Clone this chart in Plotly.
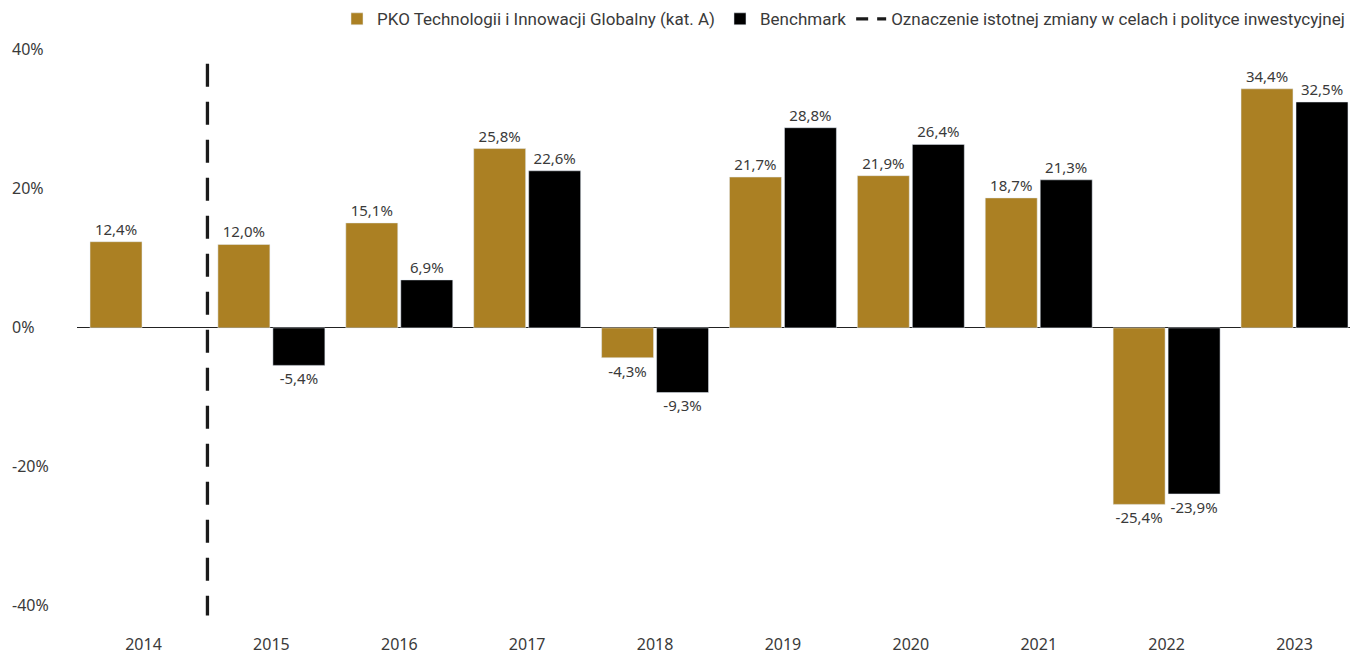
import plotly.graph_objects as go

years = ["2014", "2015", "2016", "2017", "2018", "2019", "2020", "2021", "2022", "2023"]
fund_values = [12.4, 12.0, 15.1, 25.8, -4.3, 21.7, 21.9, 18.7, -25.4, 34.4]
bench_values = [None, -5.4, 6.9, 22.6, -9.3, 28.8, 26.4, 21.3, -23.9, 32.5]
y_ticks = [-40, -20, 0, 20, 40]
change_after_year = "2014"

fund_name = "PKO Technologii i Innowacji Globalny (kat. A)"
bench_name = "Benchmark"
line_name = "Oznaczenie istotnej zmiany w celach i polityce inwestycyjnej"

GOLD = "#AB8023"
BLACK = "#000000"
TEXT = "#3a3a3a"
NUM_FONT = "Noto Sans"
LEG_FONT = "Roboto"

xpos = list(range(len(years)))


def fmt(v):
    return "" if v is None else f"{v:.1f}%".replace(".", ",")


fig = go.Figure()
fig.add_trace(go.Bar(
    x=xpos, y=fund_values, name=fund_name, marker_color=GOLD,
    text=[fmt(v) for v in fund_values], textposition="outside",
    textfont=dict(family=NUM_FONT, size=15, color=TEXT),
    cliponaxis=False, constraintext="none", hoverinfo="skip",
))
fig.add_trace(go.Bar(
    x=xpos, y=bench_values, name=bench_name, marker_color=BLACK,
    text=[fmt(v) for v in bench_values], textposition="outside",
    textfont=dict(family=NUM_FONT, size=15, color=TEXT),
    cliponaxis=False, constraintext="none", hoverinfo="skip",
))

xc = years.index(change_after_year) + 0.5
fig.add_trace(go.Scatter(
    x=[xc, xc], y=[38.0, -41.4], mode="lines", showlegend=False,
    line=dict(color="#1a1a1a", width=3.3, dash="23px,15px"), hoverinfo="skip",
))
fig.add_trace(go.Scatter(
    x=[None], y=[None], mode="lines", name=line_name,
    line=dict(color="#1a1a1a", width=3.3, dash="12px,9px"),
))

W, H = 1350, 654
ml, mt, mb = 0, 30, 28
plot_left = 77
fig.update_layout(
    width=W, height=H,
    margin=dict(l=ml, r=0, t=mt, b=mb, pad=0),
    paper_bgcolor="white", plot_bgcolor="white",
    barmode="group", bargap=0.14, bargroupgap=0.055,
    font=dict(family=NUM_FONT, color=TEXT),
    legend=dict(
        orientation="h", x=1.0, xanchor="right", y=1.018, yanchor="middle",
        font=dict(family=LEG_FONT, size=17, color=TEXT),
        bgcolor="rgba(0,0,0,0)", traceorder="normal",
    ),
    xaxis=dict(
        domain=[plot_left / W, 1.0],
        range=[-0.52, 9.434],
        tickvals=xpos, ticktext=years,
        ticklabelstandoff=7,
        tickfont=dict(family=NUM_FONT, size=16, color=TEXT),
        showgrid=False, zeroline=False, showline=False, ticks="",
    ),
    yaxis=dict(
        range=[-42.9, 42.86],
        anchor="free", position=0,
        tickvals=y_ticks, ticktext=[f"{t}%" for t in y_ticks],
        ticklabelposition="inside", ticklabelstandoff=8,
        tickfont=dict(family=NUM_FONT, size=16, color=TEXT),
        showgrid=False, showline=False, ticks="",
        zeroline=True, zerolinecolor="#222222", zerolinewidth=1.3,
    ),
)

fig.write_html("out.html")
